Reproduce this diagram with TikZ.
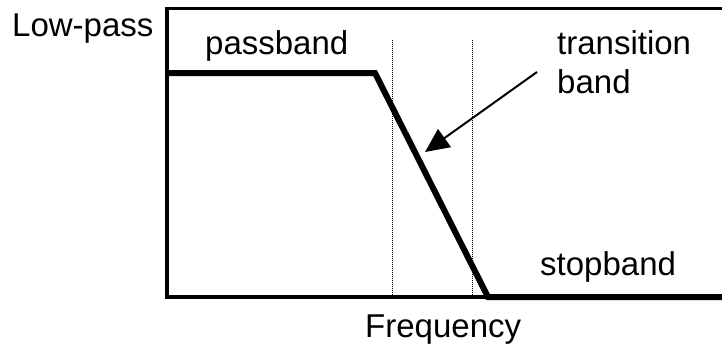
\documentclass[tikz,border=0pt]{standalone}
\usepackage{fontspec}
\setmainfont{Liberation Sans}
\usetikzlibrary{arrows.meta}
\begin{document}
\begin{tikzpicture}[x=1pt,y=-1pt,
  lbl/.style={inner sep=0pt,anchor=base west,font=\fontsize{33}{38}\selectfont},
  axisline/.style={line width=3.5pt},
  resp/.style={line width=6pt,line join=miter},
  guide/.style={line width=1pt,densely dotted}]
\useasboundingbox (0,0) rectangle (722,349);
% frame
\coordinate (tl) at (167,8.5);
\coordinate (tr) at (724,8.5);
\coordinate (bl) at (167,297);
\coordinate (br) at (724,297);
\draw[axisline] (tr) -- (tl) -- (bl) -- (br);
% dotted guides
\coordinate (g1t) at (392,40);
\coordinate (g1b) at (392,296);
\coordinate (g2t) at (472,40);
\coordinate (g2b) at (472,296);
\draw[guide] (g1t) -- (g1b);
\draw[guide] (g2t) -- (g2b);
% response
\coordinate (p0) at (167,73);
\coordinate (p1) at (375,73);
\coordinate (p2) at (488,297);
\coordinate (p3) at (724,297);
\draw[resp] (p0) -- (p1) -- (p2) -- (p3);
% labels
\node[lbl] (lp) at (12,36) {Low-pass};
\node[lbl] (pb) at (205,54) {passband};
\node[lbl] (tb1) at (557,54) {transition};
\node[lbl] (tb2) at (557,93) {band};
\node[lbl] (sb) at (540,275) {stopband};
\node[lbl] (fq) at (365,337) {Frequency};
% arrow
\coordinate (as) at (537,72);
\coordinate (ae) at (425,152);
\draw[line width=2pt,-{Triangle[length=24pt,width=22pt]}] (as) -- (ae);
\end{tikzpicture}
\end{document}
